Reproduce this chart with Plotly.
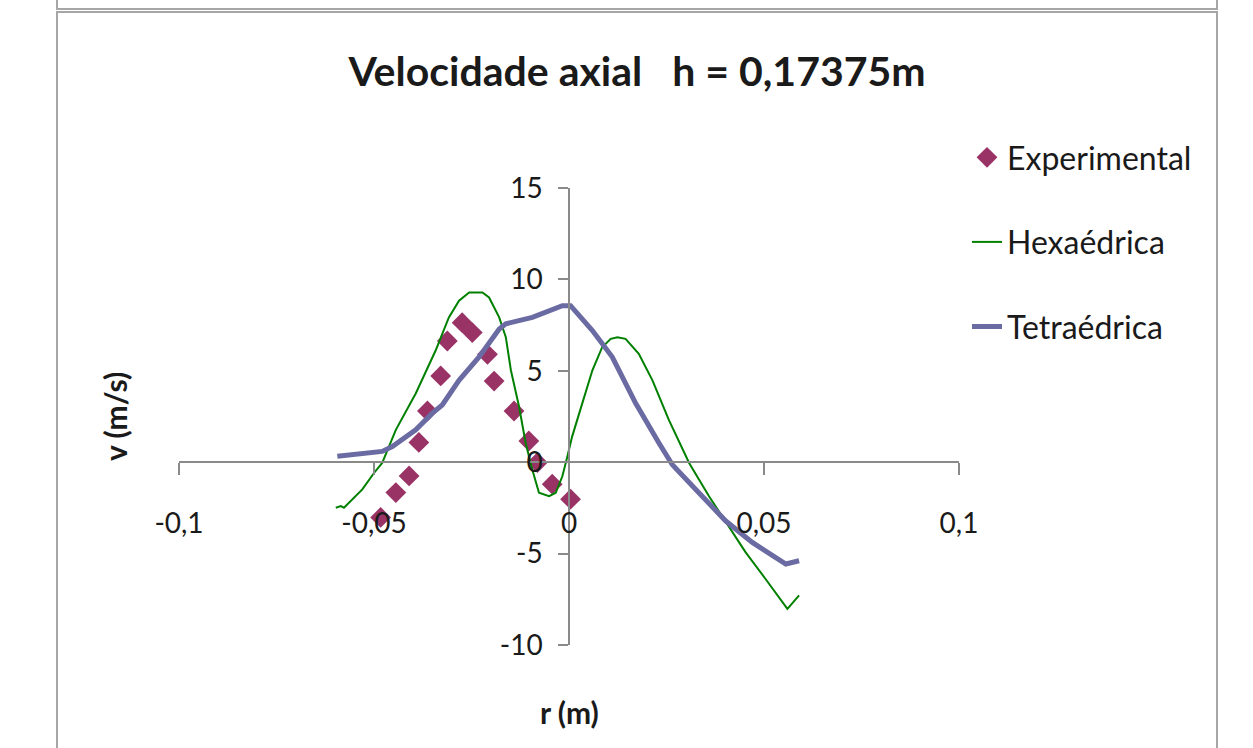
import plotly.graph_objects as go

# ---------------- data ----------------
exp_r = [-0.0483, -0.0444, -0.0410, -0.0385, -0.0363, -0.0329, -0.0312, -0.0274,
         -0.0248, -0.0209, -0.0192, -0.0141, -0.0103, -0.0081, -0.0043, 0.0004]
exp_v = [-3.02, -1.66, -0.75, 1.08, 2.80, 4.72, 6.63, 7.63,
         7.09, 5.90, 4.44, 2.80, 1.16, -0.02, -1.20, -2.02]

hex_r = [-0.0598, -0.0585, -0.0577, -0.0530, -0.0500, -0.0479, -0.0444, -0.0393,
         -0.0342, -0.0308, -0.0282, -0.0256, -0.0222, -0.0205, -0.0179, -0.0162,
         -0.0149, -0.0128, -0.0111, -0.0094, -0.0077, -0.0051, -0.0034, -0.0017,
         -0.0004, 0.0008, 0.0034, 0.0060, 0.0085, 0.0107, 0.0124, 0.0145,
         0.0179, 0.0214, 0.0256, 0.0308, 0.0359, 0.0410, 0.0453, 0.0504,
         0.0560, 0.0590]
hex_v = [-2.49, -2.40, -2.49, -1.49, -0.59, -0.04, 1.77, 3.76,
         6.11, 7.92, 8.83, 9.28, 9.28, 9.01, 7.92, 6.84,
         5.03, 3.03, 1.04, -0.41, -1.67, -1.86, -1.67, -0.77,
         0.32, 1.40, 3.22, 5.03, 6.29, 6.75, 6.84, 6.75,
         5.93, 4.48, 2.31, -0.04, -1.86, -3.49, -4.93, -6.39,
         -8.02, -7.29]

tet_r = [-0.0594, -0.0479, -0.0453, -0.0393, -0.0351, -0.0325, -0.0282, -0.0231,
         -0.0179, -0.0162, -0.0094, -0.0017, 0.0004, 0.0060, 0.0111, 0.0171,
         0.0231, 0.0265, 0.0333, 0.0402, 0.0470, 0.0521, 0.0556, 0.0590]
tet_v = [0.32, 0.59, 0.86, 1.77, 2.67, 3.13, 4.48, 5.75,
         7.29, 7.57, 7.92, 8.56, 8.56, 7.20, 5.75, 3.22,
         1.04, -0.14, -1.67, -3.22, -4.39, -5.12, -5.57, -5.39]

x_tickvals = [-0.1, -0.05, 0, 0.05, 0.1]
x_ticktext = ["-0,1", "-0,05", "0", "0,05", "0,1"]
y_tickvals = [-10, -5, 0, 5, 10, 15]
y_ticktext = ["-10", "-5", "0", "5", "10", "15"]

title_text = "Velocidade axial\u00a0\u00a0\u00a0h = 0,17375m"
x_title = "r (m)"
y_title = "v (m/s)"

# ---------------- figure ----------------
W, H = 1253, 748
L, R, T, B = 179, 959, 188, 645   # plot area in pixels


def px_x(p):
    return (p - L) / (R - L)


def px_y(p):
    return (B - p) / (B - T)


FONT = "Lato"
TXT = "#1a1a1a"
AX = "#8a8a8a"

fig = go.Figure()
fig.add_trace(go.Scatter(
    x=exp_r, y=exp_v, mode="markers", name="Experimental",
    marker=dict(symbol="diamond", size=16, color="#993366"),
    legendgroup="a"))
fig.add_trace(go.Scatter(
    x=hex_r, y=hex_v, mode="lines", name="Hexaédrica",
    line=dict(color="#008000", width=2), legendgroup="b"))
fig.add_trace(go.Scatter(
    x=tet_r, y=tet_v, mode="lines", name="Tetraédrica",
    line=dict(color="#6B6BA3", width=5), legendgroup="c"))

fig.update_layout(
    width=W, height=H,
    margin=dict(l=L, r=W - R, t=T, b=H - B, pad=0),
    paper_bgcolor="white", plot_bgcolor="white",
    font=dict(family=FONT, color=TXT),
    title=dict(text=title_text, font=dict(size=41, family=FONT, color=TXT, weight="bold"),
               x=637 / W, xref="container", xanchor="center",
               y=1 - 72 / H, yref="container", yanchor="middle"),
    showlegend=True,
    legend=dict(x=px_x(967), y=px_y(130), xanchor="left", yanchor="top",
                font=dict(size=32, family=FONT, color=TXT),
                tracegroupgap=40, bgcolor="rgba(0,0,0,0)"),
    xaxis=dict(range=[-0.1, 0.1], anchor="free", position=0.4,
               showline=True, linecolor=AX, linewidth=1.5,
               ticks="outside", ticklen=12, tickcolor=AX, tickwidth=1.5,
               tickvals=x_tickvals, ticktext=x_ticktext,
               tickfont=dict(size=28, family=FONT, color=TXT),
               ticklabelstandoff=24,
               showgrid=False, zeroline=False),
    yaxis=dict(range=[-10, 15], anchor="free", position=0.5,
               showline=True, linecolor=AX, linewidth=1.5,
               ticks="outside", ticklen=10, tickcolor=AX, tickwidth=1.5,
               tickvals=y_tickvals, ticktext=y_ticktext,
               tickfont=dict(size=28, family=FONT, color=TXT),
               ticklabelstandoff=10,
               showgrid=False, zeroline=False),
)

# axis titles
fig.add_annotation(text=x_title, xref="paper", yref="paper",
                   x=px_x(569), y=px_y(712), xanchor="center", yanchor="middle",
                   showarrow=False,
                   font=dict(size=30, family=FONT, color=TXT, weight="bold"))
fig.add_annotation(text=y_title, xref="paper", yref="paper",
                   x=px_x(115), y=px_y(417), xanchor="center", yanchor="middle",
                   showarrow=False, textangle=-90,
                   font=dict(size=30, family=FONT, color=TXT, weight="bold"))

# frame (chart border and the bottom of the box above)
FR = "#a6a6a6"
fig.add_shape(type="rect", xref="paper", yref="paper",
              x0=px_x(57), x1=px_x(1217), y0=px_y(760), y1=px_y(12),
              line=dict(color=FR, width=2), fillcolor="rgba(0,0,0,0)", layer="below")
fig.add_shape(type="rect", xref="paper", yref="paper",
              x0=px_x(57), x1=px_x(1217), y0=px_y(9), y1=px_y(-20),
              line=dict(color=FR, width=2), fillcolor="rgba(0,0,0,0)", layer="below")

fig.write_html("out.html")
